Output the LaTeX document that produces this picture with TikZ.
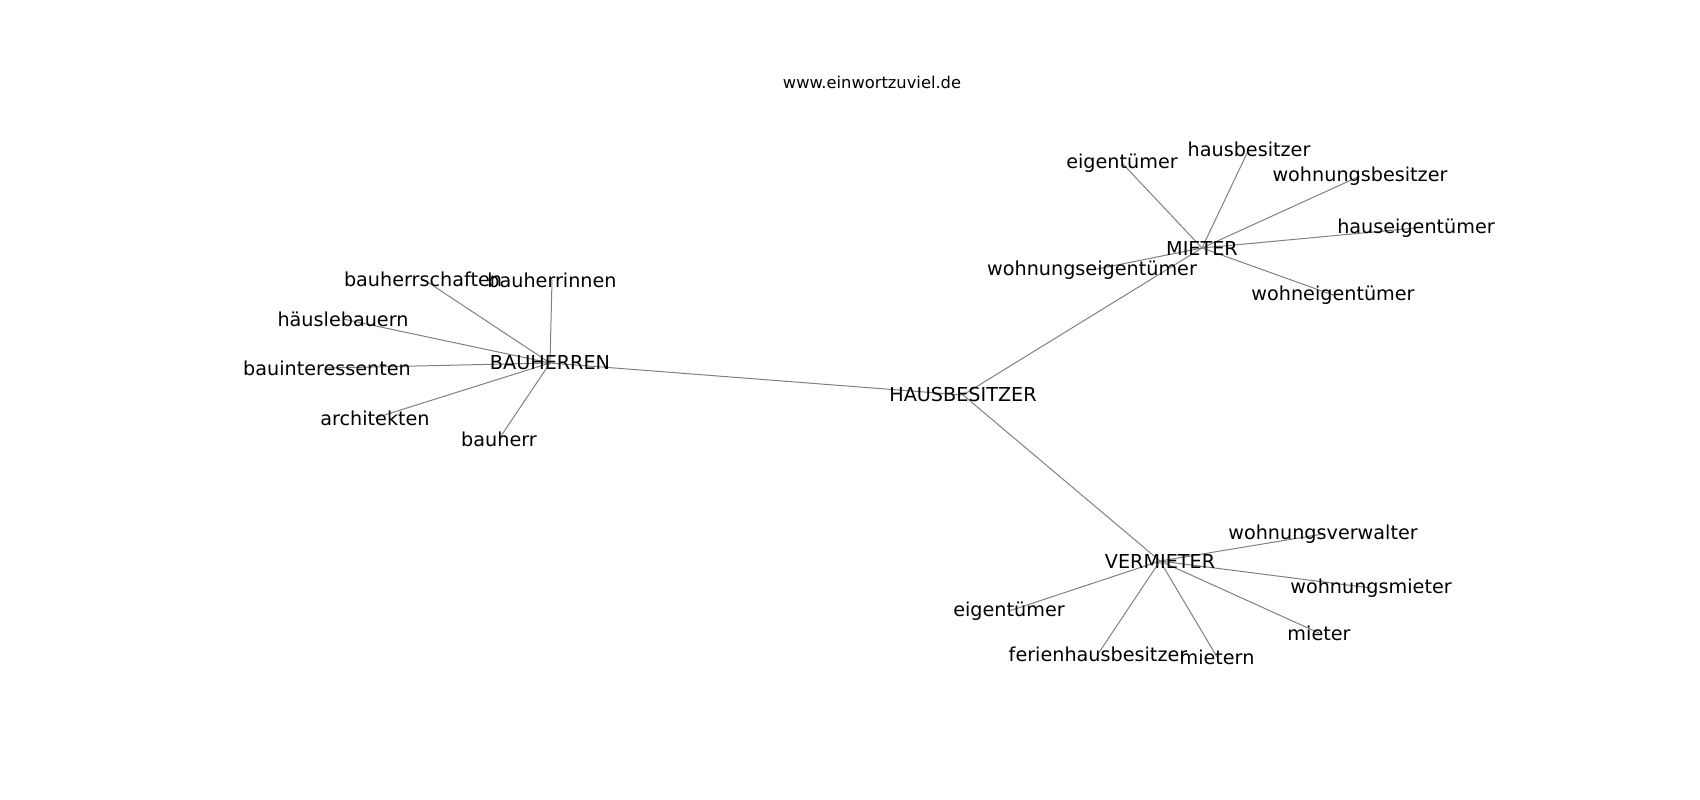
\documentclass[tikz,border=0pt]{standalone}
\usepackage{fontspec}
\setmainfont{DejaVu Sans}
\usetikzlibrary{backgrounds}

\begin{document}
\begin{tikzpicture}[
    x=1pt, y=-1pt,
    word/.style={inner sep=0pt, font=\fontsize{19.2}{23}\selectfont},
    link/.style={draw=gray, line width=1pt},
    title/.style={inner sep=0pt, font=\fontsize{16.3}{20}\selectfont}
  ]
  \useasboundingbox (0,0) rectangle (1700,800);
  \node[title] (site) at (872,82) {www.einwortzuviel.de};
  % hubs
  \node[word] (haus) at (963,395) {HAUSBESITZER};
  \node[word] (bau)  at (550,363) {BAUHERREN};
  \node[word] (mie)  at (1202,248) {MIETER};
  \node[word] (ver)  at (1160,561) {VERMIETER};
  % around MIETER
  \node[word] (mie1) at (1122,163) {eigentümer};
  \node[word] (mie2) at (1249,149) {hausbesitzer};
  \node[word] (mie3) at (1360,176) {wohnungsbesitzer};
  \node[word] (mie4) at (1416,228) {hauseigentümer};
  \node[word] (mie5) at (1092,270) {wohnungseigentümer};
  \node[word] (mie6) at (1333,295) {wohneigentümer};
  % around BAUHERREN
  \node[word] (bau1) at (423,279) {bauherrschaften};
  \node[word] (bau2) at (552,280) {bauherrinnen};
  \node[word] (bau3) at (343,319) {häuslebauern};
  \node[word] (bau4) at (327,368) {bauinteressenten};
  \node[word] (bau5) at (375,418) {architekten};
  \node[word] (bau6) at (499,439) {bauherr};
  % around VERMIETER
  \node[word] (ver1) at (1323,534) {wohnungsverwalter};
  \node[word] (ver2) at (1371,588) {wohnungsmieter};
  \node[word] (ver3) at (1009,611) {eigentümer};
  \node[word] (ver4) at (1319,633) {mieter};
  \node[word] (ver5) at (1098,654) {ferienhausbesitzer};
  \node[word] (ver6) at (1217,657) {mietern};
  \begin{pgfonlayer}{background}
    \foreach \hub in {bau,mie,ver}
      \draw[link] (haus.center) -- (\hub.center);
    \foreach \hub in {bau,mie,ver}
      \foreach \i in {1,...,6}
        \draw[link] (\hub.center) -- (\hub\i.center);
  \end{pgfonlayer}
\end{tikzpicture}
\end{document}
